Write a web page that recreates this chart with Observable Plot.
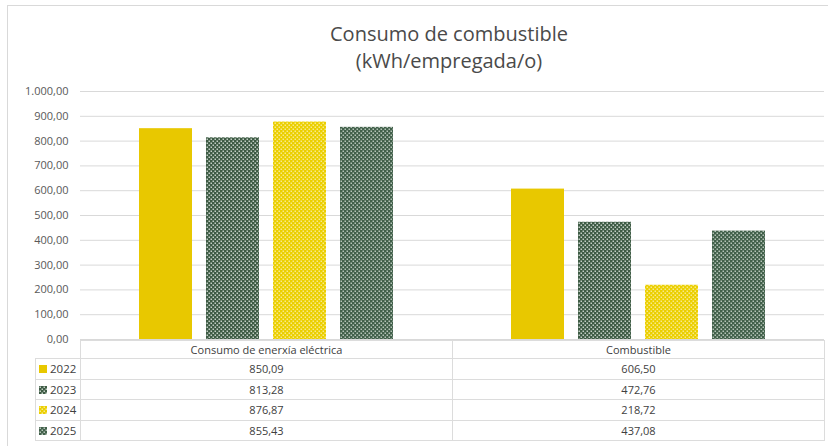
<!DOCTYPE html>
<html>
<head>
<meta charset="utf-8">
<script src="https://cdn.jsdelivr.net/npm/d3@7"></script>
<script src="https://cdn.jsdelivr.net/npm/@observablehq/plot@0.6"></script>
<style>
  html, body { margin: 0; padding: 0; background: #fff; }
  #wrap { position: relative; width: 828px; height: 446px; overflow: hidden; font-family: "Open Sans", sans-serif; color: #404040; }
  #frame { position: absolute; left: 7px; top: 5px; width: 840px; height: 460px; border: 1px solid #d9d9d9; box-sizing: border-box; }
  #title { position: absolute; left: 0; width: 898px; top: 20px; text-align: center; font-size: 20px; line-height: 27px; color: #4a4a4a; }
  #chart { position: absolute; left: 0; top: 80px; }
  #tbl { position: absolute; left: 35px; top: 340px; border-collapse: collapse; font-size: 11px; color: #404040; table-layout: fixed; }
  #tbl td { border: 1.5px solid #dcdcdc; text-align: center; padding: 0; height: 19.5px; }
  #tbl tr.h td { height: 17px; }
  #tbl td.lg { text-align: left; padding-left: 3px; white-space: nowrap; }
  #tbl td.blank { border: none; border-bottom: 1.5px solid #dcdcdc; }
  #defs { position: absolute; width: 0; height: 0; }
</style>
</head>
<body>
<div id="wrap">
  <div id="frame"></div>
  <svg id="defs" width="0" height="0">
    <defs>
      <pattern id="p2023" width="4" height="4" patternUnits="userSpaceOnUse">
        <rect width="4" height="4" fill="#3d5b44"></rect>
        <rect x="0.5" y="0.5" width="1.5" height="1.5" fill="#c3cec5"></rect>
        <rect x="2.5" y="2.5" width="1.5" height="1.5" fill="#c3cec5"></rect>
      </pattern>
      <pattern id="p2024" width="4" height="4" patternUnits="userSpaceOnUse">
        <rect width="4" height="4" fill="#ebcf00"></rect>
        <rect x="0.5" y="0.5" width="1.5" height="1.5" fill="#f8ea8c"></rect>
        <rect x="2.5" y="2.5" width="1.5" height="1.5" fill="#f8ea8c"></rect>
      </pattern>
      <pattern id="p2025" width="4" height="4" patternUnits="userSpaceOnUse">
        <rect width="4" height="4" fill="#41604a"></rect>
        <rect x="0.5" y="0.5" width="1.5" height="1.5" fill="#b5c3b8"></rect>
        <rect x="2.5" y="2.5" width="1.5" height="1.5" fill="#b5c3b8"></rect>
      </pattern>
    </defs>
  </svg>
  <div id="title">Consumo de combustible<br>(kWh/empregada/o)</div>
  <div id="chart"></div>
  <table id="tbl"></table>
</div>
<script>
const categories = ["Consumo de enerxía eléctrica", "Combustible"];
const years = ["2022", "2023", "2024", "2025"];
const electricity = [850.09, 813.28, 876.87, 855.43];
const fuel = [606.50, 472.76, 218.72, 437.08];
const yTicks = [0, 100, 200, 300, 400, 500, 600, 700, 800, 900, 1000];
const yearFills = ["#e8c800", "url(#p2023)", "url(#p2024)", "url(#p2025)"];

const locale = d3.formatLocale({decimal: ",", thousands: ".", grouping: [3], currency: ["", ""]});
const fmt = locale.format(",.2f");

const seriesByCat = [electricity, fuel];
const rows = [];
categories.forEach((c, ci) => years.forEach((y, yi) => rows.push({cat: c, year: y, value: seriesByCat[ci][yi]})));

const chart = Plot.plot({
  width: 828,
  height: 267,
  marginTop: 11,
  marginBottom: 8,
  marginLeft: 80,
  marginRight: 4,
  style: {fontFamily: "Open Sans, sans-serif", fontSize: "11px", color: "#595959", background: "transparent"},
  fx: {domain: categories, padding: 0, axis: null},
  x: {domain: years, paddingInner: 0.215, paddingOuter: 0.86, axis: null},
  y: {domain: [0, 1000], ticks: yTicks, tickFormat: fmt, tickSize: 0, tickPadding: 12, label: null},
  color: {domain: years, range: yearFills},
  marks: [
    Plot.gridY(yTicks, {stroke: "#d9d9d9", strokeOpacity: 1, strokeWidth: 1}),
    Plot.axisY(yTicks, {tickFormat: fmt, tickSize: 0, tickPadding: 12, label: null, fill: "#595959"}),
    Plot.barY(rows, {fx: "cat", x: "year", y: "value", fill: "year"})
  ]
});
document.getElementById("chart").appendChild(chart);

// data table below the plot
const tbl = d3.select("#tbl");
const cg = tbl.append("colgroup");
cg.append("col").style("width", "45px");
cg.append("col").style("width", "372px");
cg.append("col").style("width", "372px");
const hr = tbl.append("tr").attr("class", "h");
hr.append("td").attr("class", "blank");
categories.forEach(c => hr.append("td").text(c));
years.forEach((y, yi) => {
  const tr = tbl.append("tr");
  const lg = tr.append("td").attr("class", "lg");
  lg.html(`<svg width="8" height="8" style="vertical-align:-0px;margin-right:3px"><rect width="8" height="8" fill="${yearFills[yi]}"></rect></svg>`);
  lg.append("span").style("font-size", "11.5px").text(y);
  seriesByCat.forEach(s => tr.append("td").text(fmt(s[yi])));
});
</script>
</body>
</html>
